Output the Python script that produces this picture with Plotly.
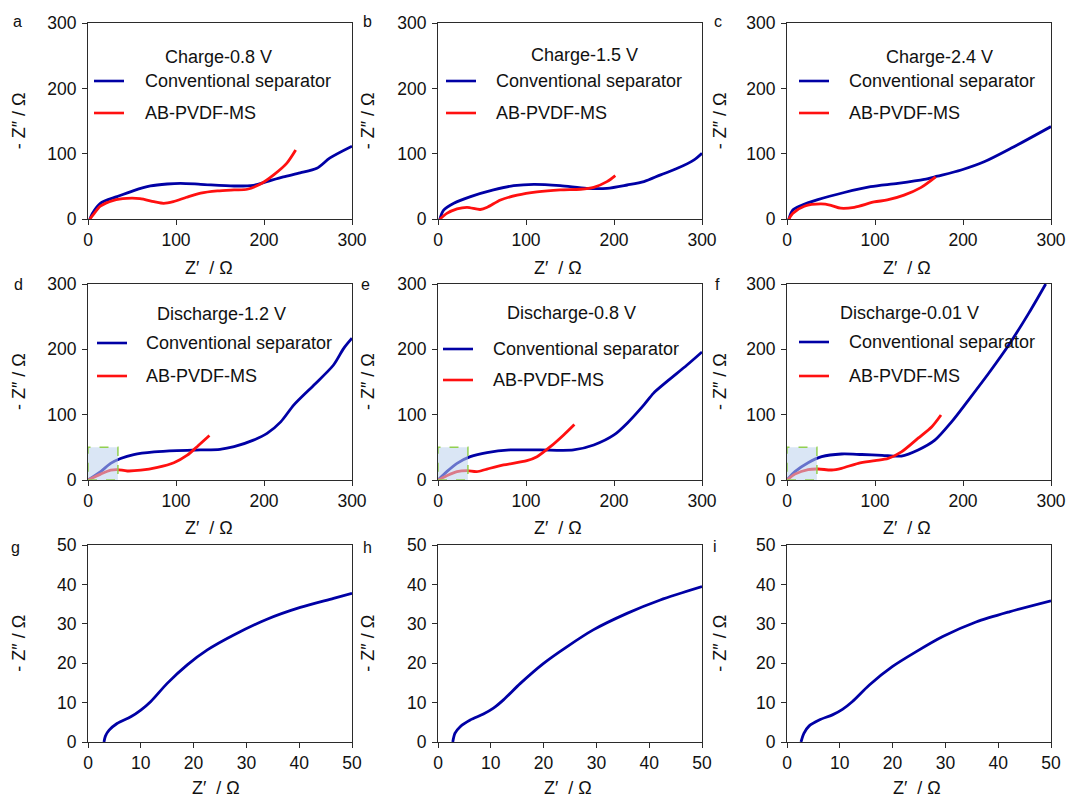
import plotly.graph_objects as go

FONT = "Liberation Sans, Arial, Helvetica, sans-serif"
BLUE = "#0000a5"
RED = "#ff1010"
AXIS = "#2b2b2b"
TEXT = "#111111"
W, H = 1070, 801

# ---- Nyquist data (Z' in ohm, -Z'' in ohm) ----
# a: charge to 0.8 V
a_conv_x = [2, 5, 14, 33, 52, 71, 90, 105, 128, 166, 188, 203, 222, 241, 260, 275, 300]
a_conv_y = [0, 9, 24.5, 34.7, 44, 51, 54, 55, 53.6, 51, 52, 57.7, 65, 71, 78, 94, 112]
a_ms_x = [2, 6, 14, 29, 44, 59, 75, 86, 97, 112, 128, 147, 166, 181, 196, 211, 226, 236]
a_ms_y = [0, 7, 20, 29, 32, 31.6, 27, 24.5, 27, 33.7, 40, 43.4, 45, 46, 54, 68, 86, 106]

# b: charge to 1.5 V
b_conv_x = [2, 6.4, 18, 37, 63, 86, 109, 139, 169, 192, 215, 234, 253, 272, 291, 300]
b_conv_y = [0, 14, 24.5, 34.7, 45, 51.5, 53.6, 51.5, 47.4, 47.4, 52.5, 57.7, 68, 78, 91, 101]
b_ms_x = [2, 10, 21.6, 33, 48, 56, 71, 90, 112.5, 139, 162, 177, 192, 201.5]
b_ms_y = [0, 9, 16, 18.4, 15, 18.4, 29.6, 37, 42, 45, 46, 49, 57.7, 67]

# c: charge to 2.4 V
c_conv_x = [2, 6.4, 16, 35, 65, 95, 126, 156, 171, 198, 224, 255, 300]
c_conv_y = [0, 14, 21, 30, 41, 50, 55, 61, 66, 75.5, 88, 109, 142]
c_ms_x = [2, 6.4, 19.7, 38.6, 50, 61, 76.5, 99, 114, 133, 152, 169]
c_ms_y = [0, 9, 20, 23.5, 21.4, 17, 18.4, 26.5, 29.6, 37, 48.5, 65]

# d: discharge to 1.2 V
d_conv_x = [0, 14.4, 25.7, 37, 52, 75, 101, 128, 150, 166, 188, 203.5, 219, 234, 256.5, 279, 290.6, 300]
d_conv_y = [0, 12.8, 25.5, 33, 39, 43, 45, 46, 47, 51, 61, 71.4, 89, 115, 145, 176, 201.5, 217]
d_ms_x = [0, 14.4, 25.7, 33, 44.6, 60, 79, 97.6, 112.8, 124, 138]
d_ms_y = [0, 9, 15, 16, 13.8, 15, 19.4, 26.5, 38, 51, 68]

# e: discharge to 0.8 V
e_conv_x = [0, 10, 21.6, 36.7, 55.7, 82, 116, 154, 177, 200, 215, 234, 245, 260, 283, 300]
e_conv_y = [0, 12.8, 25.5, 35.7, 42, 46, 46, 46, 53.6, 69, 87, 115, 133, 150.5, 176, 196]
e_ms_x = [0, 10, 21.6, 33, 44, 55.7, 74.6, 101, 112.5, 127.7, 142.8, 155]
e_ms_y = [0, 6.6, 12.8, 14.3, 12.8, 16.8, 23, 29.6, 35.7, 51, 69, 85]

# f: discharge to 0.01 V
f_conv_x = [0, 9, 24, 39.4, 62, 85, 108, 130, 149, 168, 187, 206, 229, 252, 274.6, 294]
f_conv_y = [0, 12.8, 26.5, 35.7, 39.8, 39, 37.8, 36.7, 46, 61, 89, 122, 163, 206.6, 255, 300]
f_ms_x = [0, 9, 24, 35.6, 50.8, 62, 81, 100, 115, 130, 149, 164.6, 175]
f_ms_y = [0, 9, 16, 16.8, 15.3, 17.9, 25.5, 29.6, 33, 43, 64, 81.6, 99.5]

# g, h, i: high-frequency region of d, e, f (conventional separator)
g_conv_x = [3.03, 3.3, 4, 5.5, 8.1, 10, 11.9, 15, 18.8, 22.6, 27.6, 33.9, 40.2, 46.5, 50]
g_conv_y = [0, 1.5, 3, 4.7, 6.4, 8.1, 10.3, 14.9, 19.6, 23.4, 27.2, 31.2, 34.2, 36.5, 37.8]
h_conv_x = [2.8, 3.2, 4.2, 6.1, 8.6, 10.5, 12.4, 15.6, 20, 24.4, 29.4, 35.8, 42.1, 50]
h_conv_y = [0, 2.2, 3.9, 5.6, 7.1, 8.6, 10.7, 14.9, 20, 24.2, 28.5, 32.7, 36.1, 39.5]
i_conv_x = [2.65, 3.2, 4.2, 6.1, 8.6, 10.5, 12.4, 15.6, 20, 24.4, 29.5, 35.8, 42.1, 50]
i_conv_y = [0, 2.2, 4.1, 5.6, 6.9, 8.3, 10.3, 14.5, 19.2, 22.9, 26.8, 30.5, 33.1, 35.9]

# axis ranges and ticks
wide_ticks = [0, 100, 200, 300]
zoom_ticks = [0, 10, 20, 30, 40, 50]
zoom_box = [34, 50]          # Z' and -Z'' limits of the magnified region

conv_name = "Conventional separator"
ms_name = "AB-PVDF-MS"


def px(x):
    return x / W


def py(y):
    return 1 - y / H


# plot-area pixel boxes: columns (left, right), rows (top, bottom)
cols = [(88, 352), (438, 702), (787, 1051)]
rows = [(23.3, 219.3), (284, 480), (545.3, 742)]

panels = [
    dict(letter="a", lp=(17, 22), title="Charge-0.8 V", conv=(a_conv_x, a_conv_y), ms=(a_ms_x, a_ms_y),
         ticks=wide_ticks, leg=dict(t=(218, 57), x0=94, x1=124, tx=143, y1=81, y2=113), xt=(209, 268)),
    dict(letter="b", lp=(367, 22), title="Charge-1.5 V", conv=(b_conv_x, b_conv_y), ms=(b_ms_x, b_ms_y),
         ticks=wide_ticks, leg=dict(t=(584, 55), x0=446, x1=476, tx=494, y1=81, y2=113), xt=(558, 268)),
    dict(letter="c", lp=(718, 22), title="Charge-2.4 V", conv=(c_conv_x, c_conv_y), ms=(c_ms_x, c_ms_y),
         ticks=wide_ticks, leg=dict(t=(939, 57), x0=799, x1=829, tx=847, y1=81, y2=113), xt=(907, 268)),
    dict(letter="d", lp=(18, 284), title="Discharge-1.2 V", conv=(d_conv_x, d_conv_y), ms=(d_ms_x, d_ms_y),
         ticks=wide_ticks, leg=dict(t=(221, 314), x0=97, x1=127, tx=144, y1=343, y2=376), xt=(209, 528), box=True),
    dict(letter="e", lp=(365, 284), title="Discharge-0.8 V", conv=(e_conv_x, e_conv_y), ms=(e_ms_x, e_ms_y),
         ticks=wide_ticks, leg=dict(t=(571, 313), x0=443, x1=473, tx=491, y1=349, y2=380), xt=(558, 528), box=True),
    dict(letter="f", lp=(717, 284), title="Discharge-0.01 V", conv=(f_conv_x, f_conv_y), ms=(f_ms_x, f_ms_y),
         ticks=wide_ticks, leg=dict(t=(909, 313), x0=799, x1=829, tx=847, y1=342, y2=376), xt=(907, 528), box=True),
    dict(letter="g", lp=(15, 547), conv=(g_conv_x, g_conv_y), ticks=zoom_ticks, xt=(216, 788)),
    dict(letter="h", lp=(367, 547), conv=(h_conv_x, h_conv_y), ticks=zoom_ticks, xt=(568, 788)),
    dict(letter="i", lp=(715, 546), conv=(i_conv_x, i_conv_y), ticks=zoom_ticks, xt=(917, 788)),
]

ytitle_x = [19, 368, 720]

fig = go.Figure()
shapes, annotations = [], []
layout_axes = {}

for k, p in enumerate(panels):
    r, c = divmod(k, 3)
    n = "" if k == 0 else str(k + 1)
    xa, ya = "x" + n, "y" + n
    (l, rr), (t, b) = cols[c], rows[r]
    rng = [p["ticks"][0], p["ticks"][-1]]
    common = dict(range=rng, tickvals=p["ticks"], showline=True, mirror=True, linecolor=AXIS,
                  linewidth=1.2, ticks="outside", ticklen=5, tickwidth=1.2, tickcolor=AXIS,
                  showgrid=False, zeroline=False, fixedrange=True, automargin=False,
                  tickfont=dict(family=FONT, size=17.5, color=TEXT))
    layout_axes["xaxis" + n] = dict(common, domain=[px(l), px(rr)], anchor=ya)
    layout_axes["yaxis" + n] = dict(common, domain=[py(b), py(t)], anchor=xa, ticklabelstandoff=2)

    cx, cy = p["conv"]
    fig.add_trace(go.Scatter(x=cx, y=cy, mode="lines", name=conv_name, xaxis=xa, yaxis=ya,
                             line=dict(color=BLUE, width=2.8, shape="spline", smoothing=0.8),
                             showlegend=False, cliponaxis=True))
    if "ms" in p:
        mx, my = p["ms"]
        fig.add_trace(go.Scatter(x=mx, y=my, mode="lines", name=ms_name, xaxis=xa, yaxis=ya,
                                 line=dict(color=RED, width=2.8, shape="spline", smoothing=0.8),
                                 showlegend=False))

    # panel letter
    annotations.append(dict(text=p["letter"], x=px(p["lp"][0]), y=py(p["lp"][1]), xref="paper", yref="paper",
                            showarrow=False, xanchor="center", yanchor="middle",
                            font=dict(family=FONT, size=16, color=TEXT)))
    # axis titles
    annotations.append(dict(text="Z′\u00a0 / Ω", x=px(p["xt"][0]), y=py(p["xt"][1]), xref="paper", yref="paper",
                            showarrow=False, xanchor="center", yanchor="middle",
                            font=dict(family=FONT, size=18, color=TEXT)))
    annotations.append(dict(text="- Z″ / Ω", x=px(ytitle_x[c]), y=py((t + b) / 2), xref="paper", yref="paper",
                            showarrow=False, xanchor="center", yanchor="middle", textangle=-90,
                            font=dict(family=FONT, size=18, color=TEXT)))

    # in-plot legend
    if "leg" in p:
        g = p["leg"]
        annotations.append(dict(text=p["title"], x=px(g["t"][0]), y=py(g["t"][1]), xref="paper", yref="paper",
                                showarrow=False, xanchor="center", yanchor="middle",
                                font=dict(family=FONT, size=18, color=TEXT)))
        for yy, name, col in ((g["y1"], conv_name, BLUE), (g["y2"], ms_name, RED)):
            shapes.append(dict(type="line", xref="paper", yref="paper", x0=px(g["x0"]), x1=px(g["x1"]),
                               y0=py(yy), y1=py(yy), line=dict(color=col, width=2.6)))
            annotations.append(dict(text=name, x=px(g["tx"]), y=py(yy), xref="paper", yref="paper",
                                    showarrow=False, xanchor="left", yanchor="middle",
                                    font=dict(family=FONT, size=18, color=TEXT)))

    # magnified region marker
    if p.get("box"):
        shapes.append(dict(type="rect", xref=xa, yref=ya, x0=0, y0=0, x1=zoom_box[0], y1=zoom_box[1],
                           fillcolor="rgba(188,210,236,0.55)", layer="above",
                           line=dict(color="#92d050", width=1.5, dash="dash")))

fig.update_layout(
    width=W, height=H, margin=dict(l=0, r=0, t=0, b=0, autoexpand=False),
    paper_bgcolor="white", plot_bgcolor="white",
    font=dict(family=FONT, color=TEXT),
    shapes=shapes, annotations=annotations, showlegend=False,
    **layout_axes,
)

fig.write_html("out.html")
